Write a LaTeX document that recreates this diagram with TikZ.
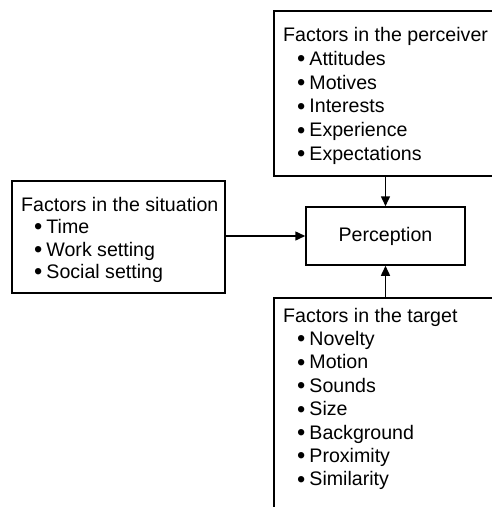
\documentclass[tikz,border=0pt]{standalone}
\usepackage{fontspec}
\setmainfont{Liberation Sans}
\usetikzlibrary{arrows.meta}
\newcommand{\bitem}[1]{\raisebox{-1.4pt}{\scalebox{1.2}{\textbullet}}\hspace{4pt}#1}
\begin{document}
\begin{tikzpicture}[x=1pt,y=-1pt,
  box/.style={draw, line width=1.5pt, inner sep=0pt, anchor=north west},
  lbl/.style={anchor=base west, inner sep=0pt, font=\fontsize{19.6}{23}\selectfont},
  arr/.style={line width=1.5pt, -{Triangle[length=10pt,width=9pt]}}]
\useasboundingbox (0,0) rectangle (492,507);
\clip (0,0) rectangle (492,507);
% boxes
\node[box, minimum width=240pt, minimum height=165pt] (perceiver) at (273,10) {};
\node[box, minimum width=213pt, minimum height=112pt] (situation) at (11,180) {};
\node[box, minimum width=240pt, minimum height=240pt] (target) at (273,297) {};
\node[draw, line width=1.5pt, inner sep=0pt, minimum width=159pt, minimum height=58pt,
      font=\fontsize{19.6}{23}\selectfont] (perception) at (385.5,236) {Perception};
% perceiver text
\node[lbl] (p0) at (283,41.5) {Factors in the perceiver};
\node[lbl] (p1) at (297,65.3) {\bitem{Attitudes}};
\node[lbl] (p2) at (297,89.1) {\bitem{Motives}};
\node[lbl] (p3) at (297,112.9) {\bitem{Interests}};
\node[lbl] (p4) at (297,136.7) {\bitem{Experience}};
\node[lbl] (p5) at (297,160.5) {\bitem{Expectations}};
% situation text
\node[lbl] (s0) at (21,211) {Factors in the situation};
\node[lbl] (s1) at (34,233.5) {\bitem{Time}};
\node[lbl] (s2) at (34,256) {\bitem{Work setting}};
\node[lbl] (s3) at (34,278.5) {\bitem{Social setting}};
% target text
\node[lbl] (t0) at (283,322) {Factors in the target};
\node[lbl] (t1) at (297,345.5) {\bitem{Novelty}};
\node[lbl] (t2) at (297,368.9) {\bitem{Motion}};
\node[lbl] (t3) at (297,392.3) {\bitem{Sounds}};
\node[lbl] (t4) at (297,415.7) {\bitem{Size}};
\node[lbl] (t5) at (297,439.1) {\bitem{Background}};
\node[lbl] (t6) at (297,462.5) {\bitem{Proximity}};
\node[lbl] (t7) at (297,485.9) {\bitem{Similarity}};
% connectors
\draw[arr] (perception.north |- perceiver.south) -- (perception.north);
\draw[arr] (situation.east |- perception.west) -- (perception.west);
\draw[arr] (perception.south |- target.north) -- (perception.south);
\end{tikzpicture}
\end{document}
